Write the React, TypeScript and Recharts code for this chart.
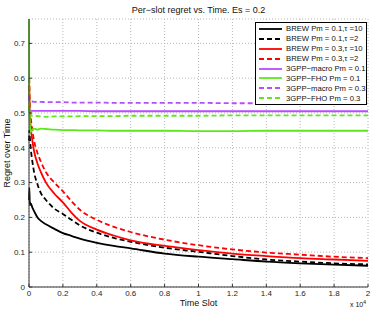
import React from 'react';
import { LineChart, Line, XAxis, YAxis, CartesianGrid, Legend } from 'recharts';

const timeSlots = [0, 20, 50, 100, 200, 300, 500, 700, 1000, 1500, 2000, 2500, 3000, 4000, 5000, 6000, 8000, 10000, 12000, 14000, 16000, 18000, 20000];
const brewPm01Tau10 = [0.25, 0.285, 0.235, 0.24, 0.228, 0.218, 0.2, 0.19, 0.18, 0.167, 0.155, 0.147, 0.139, 0.127, 0.118, 0.111, 0.096, 0.087, 0.08, 0.073, 0.068, 0.064, 0.061];
const brewPm01Tau2 = [0.42, 0.45, 0.43, 0.4, 0.36, 0.33, 0.295, 0.27, 0.25, 0.225, 0.21, 0.193, 0.177, 0.156, 0.141, 0.13, 0.113, 0.101, 0.089, 0.079, 0.073, 0.068, 0.065];
const brewPm03Tau10 = [0.58, 0.56, 0.5, 0.46, 0.42, 0.39, 0.355, 0.33, 0.3, 0.268, 0.243, 0.214, 0.19, 0.165, 0.148, 0.134, 0.118, 0.106, 0.096, 0.089, 0.083, 0.079, 0.075];
const brewPm03Tau2 = [0.6, 0.59, 0.53, 0.49, 0.45, 0.42, 0.385, 0.36, 0.33, 0.3, 0.275, 0.247, 0.222, 0.193, 0.173, 0.158, 0.136, 0.12, 0.108, 0.099, 0.093, 0.087, 0.083];
const macroPm01 = [0.52, 0.51, 0.508, 0.507, 0.506, 0.506, 0.506, 0.506, 0.506, 0.506, 0.506, 0.506, 0.506, 0.505, 0.505, 0.505, 0.505, 0.505, 0.505, 0.505, 0.505, 0.505, 0.505];
const fhoPm01 = [0.77, 0.55, 0.47, 0.445, 0.452, 0.455, 0.452, 0.455, 0.454, 0.452, 0.451, 0.451, 0.45, 0.45, 0.449, 0.449, 0.449, 0.448, 0.448, 0.449, 0.449, 0.449, 0.449];
const macroPm03 = [0.55, 0.535, 0.533, 0.533, 0.533, 0.532, 0.532, 0.532, 0.531, 0.531, 0.531, 0.53, 0.53, 0.53, 0.529, 0.529, 0.529, 0.529, 0.528, 0.528, 0.528, 0.528, 0.528];
const fhoPm03 = [0.52, 0.5, 0.492, 0.49, 0.492, 0.492, 0.491, 0.49, 0.489, 0.49, 0.49, 0.49, 0.491, 0.491, 0.491, 0.492, 0.492, 0.492, 0.493, 0.493, 0.493, 0.493, 0.493];

const xTicks = [0, 2000, 4000, 6000, 8000, 10000, 12000, 14000, 16000, 18000, 20000];
const yTicks = [0, 0.1, 0.2, 0.3, 0.4, 0.5, 0.6, 0.7];

const BLACK = '#000000';
const RED = '#ff0000';
const PURPLE = '#b84cff';
const GREEN = '#5ee81c';
const FONT = '"Liberation Sans", Arial, Helvetica, sans-serif';

const seriesDefs = [
  { key: 'b1', name: 'BREW Pm = 0.1,\u03c4 =10', color: BLACK, dash: '', values: brewPm01Tau10 },
  { key: 'b2', name: 'BREW Pm = 0.1,\u03c4 =2', color: BLACK, dash: '5 3', values: brewPm01Tau2 },
  { key: 'b3', name: 'BREW Pm = 0.3,\u03c4 =10', color: RED, dash: '', values: brewPm03Tau10 },
  { key: 'b4', name: 'BREW Pm = 0.3,\u03c4 =2', color: RED, dash: '5 3', values: brewPm03Tau2 },
  { key: 'm1', name: '3GPP\u2212macro Pm = 0.1', color: PURPLE, dash: '', values: macroPm01 },
  { key: 'f1', name: '3GPP\u2212FHO Pm = 0.1', color: GREEN, dash: '', values: fhoPm01 },
  { key: 'm3', name: '3GPP\u2212macro Pm = 0.3', color: PURPLE, dash: '5 3', values: macroPm03 },
  { key: 'f3', name: '3GPP\u2212FHO Pm = 0.3', color: GREEN, dash: '5 3', values: fhoPm03 },
];

const data = timeSlots.map((t, i) => {
  const row: Record<string, number> = { t };
  seriesDefs.forEach((s) => {
    row[s.key] = s.values[i];
  });
  return row;
});

const LegendBox = () => (
  <div
    style={{
      border: '1px solid #000',
      background: '#fff',
      padding: '1px 2px 1px 2px',
      fontFamily: FONT,
      fontSize: 7.7,
      color: '#111',
      width: 106,
    }}
  >
    {seriesDefs.map((s) => (
      <div key={s.key} style={{ display: 'flex', alignItems: 'center', height: 9.9, whiteSpace: 'nowrap' }}>
        <svg width={24} height={8} style={{ marginLeft: 1, marginRight: 3, flex: 'none' }}>
          <line x1={0} y1={4} x2={23} y2={4} stroke={s.color} strokeWidth={1.8} strokeDasharray={s.dash || undefined} />
        </svg>
        <span>{s.name}</span>
      </div>
    ))}
  </div>
);

export default function App() {
  return (
    <div style={{ position: 'absolute', left: 0, top: 0, width: 374, height: 310, background: '#fff', fontFamily: FONT }}>
      <LineChart width={374} height={310} data={data} margin={{ top: 19, right: 6, bottom: 0, left: 0 }}>
        <CartesianGrid stroke="#b8b8b8" strokeDasharray="1 2" />
        <XAxis
          dataKey="t"
          type="number"
          domain={[0, 20000]}
          ticks={xTicks}
          tickFormatter={(v: number) => String(v / 10000)}
          height={23}
          tickSize={-3}
          tickMargin={6}
          axisLine={{ stroke: '#333' }}
          tickLine={{ stroke: '#333' }}
          tick={{ fontSize: 8, fill: '#262626', fontFamily: FONT }}
          interval={0}
        />
        <XAxis xAxisId="top" dataKey="t" type="number" orientation="top" domain={[0, 20000]} ticks={xTicks} height={0} tick={false} tickSize={-3} axisLine={{ stroke: '#333' }} tickLine={{ stroke: '#333' }} />
        <YAxis
          type="number"
          domain={[0, 0.77]}
          ticks={yTicks}
          width={29}
          tickSize={-3}
          tickMargin={7}
          allowDataOverflow
          axisLine={{ stroke: '#333' }}
          tickLine={{ stroke: '#333' }}
          tick={{ fontSize: 8, fill: '#262626', fontFamily: FONT }}
          interval={0}
        />
        <YAxis yAxisId="right" orientation="right" type="number" domain={[0, 0.77]} ticks={yTicks} width={0} tick={false} tickSize={-3} axisLine={{ stroke: '#333' }} tickLine={{ stroke: '#333' }} />
        {seriesDefs.map((s) => (
          <Line
            key={s.key}
            dataKey={s.key}
            name={s.name}
            type="monotone"
            stroke={s.color}
            strokeWidth={1.8}
            strokeDasharray={s.dash || undefined}
            dot={false}
            isAnimationActive={false}
          />
        ))}
        <Legend layout="vertical" align="center" verticalAlign="middle" wrapperStyle={{ top: 22, left: 255, width: 112 }} content={() => <LegendBox />} />
      </LineChart>
      <div style={{ position: 'absolute', left: 29, width: 339, top: 5, textAlign: 'center', fontSize: 9, lineHeight: '10px', color: '#111' }}>
        Per{'\u2212'}slot regret vs. Time. Es = 0.2
      </div>
      <div style={{ position: 'absolute', left: 29, width: 339, top: 298, textAlign: 'center', fontSize: 9, lineHeight: '10px', color: '#111' }}>
        Time Slot
      </div>
      <div
        style={{
          position: 'absolute',
          left: 7,
          top: 153,
          transform: 'translate(-50%, -50%) rotate(-90deg)',
          fontSize: 9,
          lineHeight: '10px',
          whiteSpace: 'nowrap',
          color: '#111',
        }}
      >
        Regret over Time
      </div>
      <div style={{ position: 'absolute', left: 350, top: 301, fontSize: 7, lineHeight: '8px', color: '#111', whiteSpace: 'nowrap' }}>
        x 10<span style={{ fontSize: 5, position: 'relative', top: -3 }}>4</span>
      </div>
    </div>
  );
}
